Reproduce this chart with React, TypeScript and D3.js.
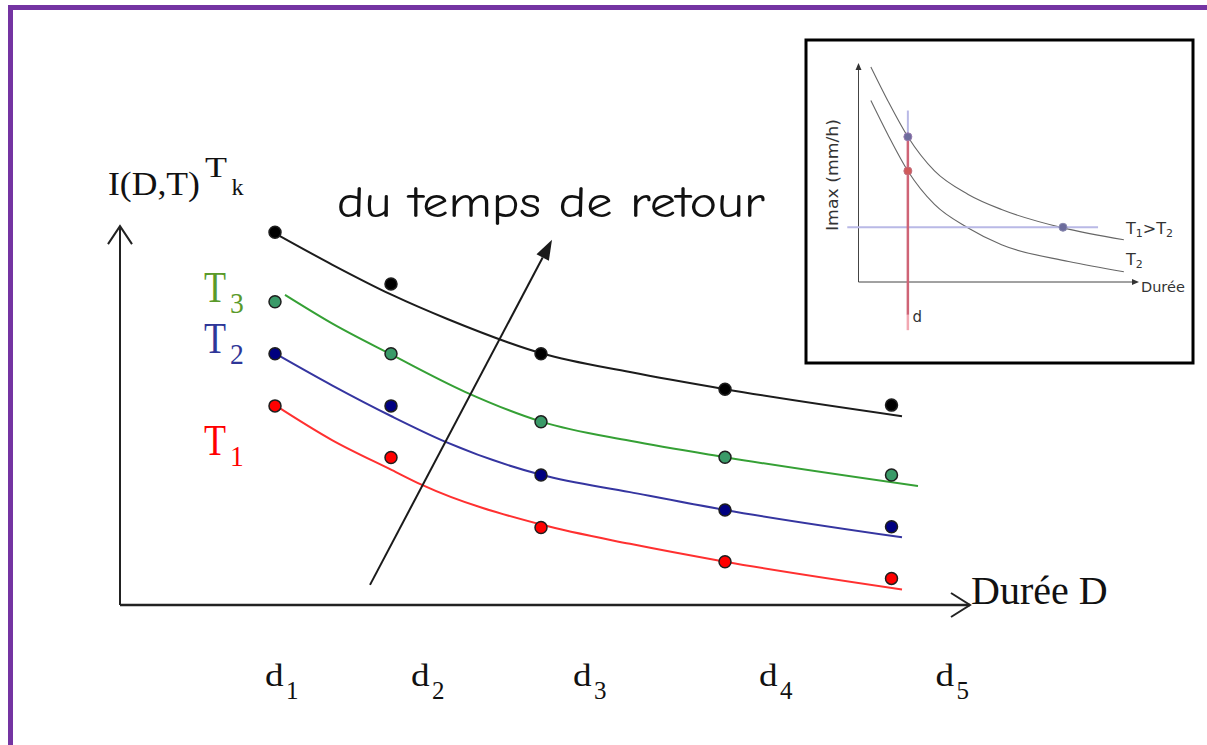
import React from "react";
import * as d3 from "d3";

// ---------- main chart data ----------
const durations = [1.55, 2.71, 4.21, 6.05, 7.715];
const durationLabels = ["1", "2", "3", "4", "5"];
const labelDurations = [1.45, 2.91, 4.53, 6.39, 8.155];

const seriesTk = [98.1, 84.5, 66.1, 56.8, 52.6];
const seriesT3 = [79.8, 66.1, 48.2, 38.9, 34.2];
const seriesT2 = [66.1, 52.4, 34.2, 25.0, 20.6];
const seriesT1 = [52.4, 38.8, 20.4, 11.4, 7.0];

const fitTk: [number, number][] = [[1.55, 97.8], [2.12, 89.6], [2.72, 81.6], [3.28, 75.2], [4.22, 66.2], [5.1, 61.3], [6.05, 56.8], [7.82, 49.7]];
const fitT3: [number, number][] = [[1.65, 81.6], [2.12, 74.1], [2.72, 65.8], [3.45, 56.1], [4.22, 48.2], [5.1, 43.2], [6.05, 38.9], [7.98, 31.3]];
const fitT2: [number, number][] = [[1.55, 66.2], [2.12, 57.8], [2.72, 49.6], [3.25, 43.0], [4.22, 34.2], [5.1, 29.7], [6.05, 25.0], [7.82, 17.8]];
const fitT1: [number, number][] = [[1.55, 52.6], [2.12, 43.4], [2.72, 35.5], [3.02, 31.6], [4.22, 21.1], [5.1, 16.1], [6.05, 11.4], [7.82, 4.1]];

const returnArrow: [number, number][] = [[2.5, 5.3], [4.32, 96.1]];

// ---------- inset data ----------
const insetUpper: [number, number][] = [[0.44, 9.82], [1.04, 8.29], [1.76, 6.63], [2.71, 5.07], [3.91, 4.0], [5.1, 3.31], [7.29, 2.47], [9.46, 1.93]];
const insetLower: [number, number][] = [[0.44, 8.29], [1.04, 6.75], [1.76, 5.07], [2.71, 3.54], [3.91, 2.47], [5.1, 1.7], [7.49, 0.94], [9.46, 0.47]];
const insetD = 1.76;
const insetLevel = 2.5;
const insetUpperAtD = 6.63;
const insetLowerAtD = 5.07;
const insetLevelDuration = 7.29;

const W = 1207;
const H = 745;

const serif = "'Liberation Serif', 'Times New Roman', serif";
const sans = "'DejaVu Sans', Verdana, sans-serif";

export default function App() {
  const x = d3.scaleLinear().domain([0, 8.5]).range([120, 970]);
  const y = d3.scaleLinear().domain([0, 100]).range([605, 225]);
  const line = d3
    .line<[number, number]>()
    .x((d) => x(d[0]))
    .y((d) => y(d[1]))
    .curve(d3.curveMonotoneX);

  const series = [
    { vals: seriesTk, fit: fitTk, stroke: "#1c1c1c", fill: "#000000" },
    { vals: seriesT3, fit: fitT3, stroke: "#35a035", fill: "#3a9a68" },
    { vals: seriesT2, fit: fitT2, stroke: "#3535a0", fill: "#000080" },
    { vals: seriesT1, fit: fitT1, stroke: "#ff3030", fill: "#ff0000" },
  ];

  // return period arrow
  const ax0 = x(returnArrow[0][0]);
  const ay0 = y(returnArrow[0][1]);
  const ax1 = x(returnArrow[1][0]);
  const ay1 = y(returnArrow[1][1]);
  const ang = Math.atan2(ay1 - ay0, ax1 - ax0);
  const hl = 20;
  const hw = 7;
  const bx = ax1 - hl * Math.cos(ang);
  const by = ay1 - hl * Math.sin(ang);
  const head = `M${ax1},${ay1} L${bx + hw * Math.sin(ang)},${by - hw * Math.cos(ang)} L${bx - hw * Math.sin(ang)},${by + hw * Math.cos(ang)} Z`;

  // inset scales
  const ix = d3.scaleLinear().domain([0, 10]).range([858.5, 1139]);
  const iy = d3.scaleLinear().domain([0, 10]).range([282, 63]);
  const iline = d3
    .line<[number, number]>()
    .x((d) => ix(d[0]))
    .y((d) => iy(d[1]))
    .curve(d3.curveMonotoneX);

  const x0 = x(0);
  const y0 = y(0);
  const xEnd = x(8.5);
  const yTop = y(99.7);

  return (
    <svg
      width={W}
      height={H}
      viewBox={`0 0 ${W} ${H}`}
      style={{ position: "absolute", left: 0, top: 0, background: "#fff" }}
    >
      {/* purple frame */}
      <path d={`M10.5,${H + 5} V7.5 H${W + 5}`} fill="none" stroke="#7434a2" strokeWidth={5} />

      {/* axes */}
      <path d={`M${x0},${y0} V${yTop}`} stroke="#222" strokeWidth={2} fill="none" />
      <path d={`M${x0 - 12},${yTop + 18} L${x0},${yTop} L${x0 + 12},${yTop + 18}`} stroke="#222" strokeWidth={2} fill="none" />
      <path d={`M${x0},${y0} H${xEnd}`} stroke="#222" strokeWidth={2.5} fill="none" />
      <path d={`M${xEnd - 19},${y0 - 12} L${xEnd},${y0} L${xEnd - 19},${y0 + 12}`} stroke="#222" strokeWidth={2} fill="none" />

      {/* fitted curves */}
      {series.map((s, i) => (
        <path key={"c" + i} d={line(s.fit) || ""} fill="none" stroke={s.stroke} strokeWidth={2} />
      ))}

      {/* return period arrow */}
      <line x1={ax0} y1={ay0} x2={bx} y2={by} stroke="#1a1a1a" strokeWidth={2} />
      <path d={head} fill="#1a1a1a" />

      {/* points */}
      {series.map((s, i) =>
        s.vals.map((v, j) => (
          <circle key={`p${i}-${j}`} cx={x(durations[j])} cy={y(v)} r={6} fill={s.fill} stroke="#1e1e1e" strokeWidth={1.5} />
        ))
      )}

      {/* texts */}
      <text x={336.7} y={216.7} fontFamily={"'Comic Sans MS', 'Comic Neue', 'DejaVu Sans', sans-serif"} fontSize={44} textLength={428} lengthAdjust="spacingAndGlyphs" fill="#111">
        du temps de retour
      </text>

      <text x={108} y={195} fontFamily={serif} fontSize={33} textLength={92} lengthAdjust="spacingAndGlyphs" fill="#111">
        I(D,T)
      </text>
      <text transform="translate(205,176.7) scale(1.2,1)" fontFamily={serif} fontSize={30} fill="#111">T</text>
      <text transform="translate(231.5,195) scale(1.05,1)" fontFamily={serif} fontSize={23} fill="#111">k</text>

      <text transform="translate(204,301.7) scale(0.82,1)" fontFamily={serif} fontSize={44} fill="#5a9a2a">T</text>
      <text transform="translate(230,313) scale(0.95,1)" fontFamily={serif} fontSize={29} fill="#5a9a2a">3</text>
      <text transform="translate(204,353) scale(0.82,1)" fontFamily={serif} fontSize={44} fill="#2e3698">T</text>
      <text transform="translate(230,364) scale(0.95,1)" fontFamily={serif} fontSize={29} fill="#2e3698">2</text>
      <text transform="translate(204,455) scale(0.82,1)" fontFamily={serif} fontSize={44} fill="#ff0000">T</text>
      <text transform="translate(230,466) scale(0.95,1)" fontFamily={serif} fontSize={29} fill="#ff0000">1</text>

      <text x={971} y={604} fontFamily={serif} fontSize={40} fill="#111">Durée D</text>

      {durationLabels.map((lab, i) => (
        <g key={"dl" + i}>
          <text transform={`translate(${x(labelDurations[i])},685.7) scale(1.2,1)`} fontFamily={serif} fontSize={31} fill="#111">d</text>
          <text transform={`translate(${x(labelDurations[i]) + 21},699)`} fontFamily={serif} fontSize={25} fill="#111">{lab}</text>
        </g>
      ))}

      {/* inset */}
      <rect x={806} y={40} width={387} height={323} fill="#fff" stroke="#000" strokeWidth={3} />
      <line x1={ix(0)} y1={iy(0)} x2={ix(0)} y2={iy(10) + 4} stroke="#444" strokeWidth={1} />
      <path d={`M${ix(0)},${iy(10)} L${ix(0) - 3},${iy(10) + 7} L${ix(0) + 3},${iy(10) + 7} Z`} fill="#333" />
      <line x1={ix(0)} y1={iy(0)} x2={ix(10) - 4} y2={iy(0)} stroke="#444" strokeWidth={1} />
      <path d={`M${ix(10)},${iy(0)} L${ix(10) - 7},${iy(0) - 3} L${ix(10) - 7},${iy(0) + 3} Z`} fill="#333" />

      <path d={iline(insetUpper) || ""} fill="none" stroke="#666" strokeWidth={1.1} />
      <path d={iline(insetLower) || ""} fill="none" stroke="#666" strokeWidth={1.1} />

      <line x1={ix(-0.4)} y1={iy(insetLevel)} x2={ix(8.54)} y2={iy(insetLevel)} stroke="#b9b9e6" strokeWidth={2} />
      <line x1={ix(insetD)} y1={iy(7.83)} x2={ix(insetD)} y2={iy(insetUpperAtD)} stroke="#b9b9e6" strokeWidth={2} />
      <line x1={ix(insetD)} y1={iy(insetUpperAtD)} x2={ix(insetD)} y2={iy(-1.5)} stroke="#cf6476" strokeWidth={2.5} />
      <line x1={ix(insetD)} y1={iy(-1.5)} x2={ix(insetD)} y2={iy(-2.2)} stroke="#f2a8b2" strokeWidth={2.5} />

      <circle cx={ix(insetD)} cy={iy(insetUpperAtD)} r={4} fill="#6c6c9c" stroke="#9a7ab0" strokeWidth={1} />
      <circle cx={ix(insetD)} cy={iy(insetLowerAtD)} r={4} fill="#d05a5a" stroke="#c07080" strokeWidth={1} />
      <circle cx={ix(insetLevelDuration)} cy={iy(insetLevel)} r={4} fill="#6c6c9c" stroke="#8a8ab0" strokeWidth={1} />

      <text transform="translate(838,175) rotate(-90)" textAnchor="middle" fontFamily={sans} fontSize={15} textLength={112} lengthAdjust="spacingAndGlyphs" fill="#333">
        Imax (mm/h)
      </text>
      <text x={1141} y={292} fontFamily={sans} fontSize={14.5} fill="#333">Durée</text>
      <text x={1126} y={233.5} fontFamily={sans} fontSize={16} fill="#333">
        T<tspan fontSize={11} dy={3}>1</tspan>
        <tspan dy={-3}>&gt;T</tspan>
        <tspan fontSize={11} dy={3}>2</tspan>
      </text>
      <text x={1126} y={265} fontFamily={sans} fontSize={16} fill="#333">
        T<tspan fontSize={11} dy={3}>2</tspan>
      </text>
      <text x={912.5} y={322} fontFamily={sans} fontSize={15} fill="#333">d</text>
    </svg>
  );
}
